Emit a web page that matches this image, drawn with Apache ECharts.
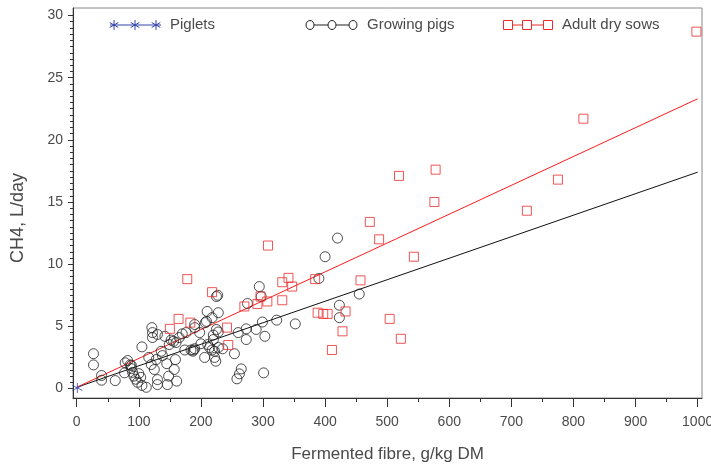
<!DOCTYPE html>
<html><head><meta charset="utf-8">
<script src="https://cdn.jsdelivr.net/npm/echarts@6/dist/echarts.min.js"></script>
<style>html,body{margin:0;padding:0;background:#fff}#c{width:711px;height:470px}</style>
</head><body><div id="c"></div>
<script>
// ---- data ----
const seriesNames = ['Piglets', 'Growing pigs', 'Adult dry sows'];
const pigletsData = [[1, 0.05]];
const growingPigsData = [
  [27,2.8],[27,1.9],[40,1.05],[40,0.67],[62,0.64],[77,1.26],[78,2.07],[82,2.25],[86,1.9],[88,1.6],
  [90,1.3],[92,1.0],[95,0.75],[98,0.5],[100,1.2],[103,0.9],[88,1.85],[105,0.25],[112,0.1],[105,3.35],
  [116,2.5],[121,4.9],[122,4.5],[130,4.35],[122,4.1],[120,1.93],[128,2.33],[125,1.53],[130,0.72],[130,0.32],
  [138,2.65],[148,1.0],[146,0.32],[159,2.33],[157,1.53],[161,0.6],[149,3.54],[156,3.8],[142,4.2],[152,3.9],
  [160,3.7],[165,4.1],[170,4.4],[174,3.1],[188,3.1],[176,4.5],[184,3.1],[190,4.9],[190,5.15],[198,4.5],
  [207,5.3],[210,6.2],[218,5.7],[209,5.4],[228,6.1],[227,7.5],[225,7.4],[225,4.75],[228,4.55],[220,4.3],
  [220,3.94],[211,3.54],[214,3.3],[218,3.1],[222,3.0],[228,3.3],[187,3.0],[190,3.2],[206,2.5],[222,2.5],
  [224,2.2],[254,2.8],[260,4.5],[265,1.58],[262,1.18],[258,0.78],[273,4.8],[273,3.94],[275,6.84],[289,4.75],
  [294,8.2],[297,7.4],[299,5.35],[303,4.2],[301,1.26],[322,5.5],[352,5.2],[390,8.85],[400,10.6],[420,12.1],
  [423,6.7],[423,5.7],[455,7.6],[136,3.0],[145,2.0],[200,3.6],[235,3.2]
];
const adultSowsData = [
  [150,4.8],[164,5.6],[183,5.3],[178,8.8],[218,7.75],[242,4.9],[244,3.5],[270,6.6],[291,6.8],[296,7.4],
  [307,7.0],[308,11.5],[331,7.1],[331,8.55],[341,8.9],[347,8.2],[384,8.8],[388,6.1],[397,6.0],[404,6.0],
  [411,3.1],[428,4.6],[433,6.2],[457,8.7],[472,13.4],[487,12.0],[504,5.6],[519,17.1],[522,4.0],[543,10.6],
  [576,15.0],[578,17.6],[725,14.3],[775,16.8],[816,21.7],[998,28.7]
];
const growingFit = [[0, 0.1], [1000, 17.4]];
const sowsFit = [[0, 0.1], [1000, 23.3]];
const xMajorTicks = [0,100,200,300,400,500,600,700,800,900,1000];
const xMinorTicks = [50,150,250,350,450,550,650,750,850,950];
const yMajorTicks = [0,5,10,15,20,25,30];
const yMinorTicks = [];
for (let v = 0.5; v < 30; v += 0.5) { if (v % 5 !== 0) yMinorTicks.push(v); }
const xTitle = 'Fermented fibre, g/kg DM';
const yTitle = 'CH4, L/day';

// ---- style ----
const FONT = '"Liberation Sans",Arial,sans-serif';
const TXT = '#4a4a4a';
const AX = '#333';
const BLUE = '#3344aa', BLACK = '#222', RED = '#ee2a2a';
const X_MIN = -6, X_MAX = 1007, Y_MIN = -0.76, Y_MAX = 30.6;

const starPath = 'path://M5,0L5,10M0.7,2.5L9.3,7.5M0.7,7.5L9.3,2.5';

function legendItem(kind, color, xs, lineX0, lineX1, y, textX, label) {
  const els = [{type:'line', shape:{x1:lineX0, y1:y, x2:lineX1, y2:y}, style:{stroke:color, lineWidth:1}}];
  xs.forEach(x => {
    if (kind === 'circle') els.push({type:'ellipse', shape:{cx:x, cy:y, rx:4, ry:4.5}, style:{fill:'#fff', stroke:color, lineWidth:1}});
    else if (kind === 'rect') els.push({type:'rect', shape:{x:x-4.5, y:y-4.5, width:9, height:9}, style:{fill:'#fff', stroke:color, lineWidth:1}});
    else {
      els.push({type:'line', shape:{x1:x, y1:y-5, x2:x, y2:y+5}, style:{stroke:color, lineWidth:1}});
      els.push({type:'line', shape:{x1:x-4.3, y1:y-2.5, x2:x+4.3, y2:y+2.5}, style:{stroke:color, lineWidth:1}});
      els.push({type:'line', shape:{x1:x-4.3, y1:y+2.5, x2:x+4.3, y2:y-2.5}, style:{stroke:color, lineWidth:1}});
    }
  });
  els.push({type:'text', x:textX, y:y, style:{text:label, fill:TXT, font:'15px ' + FONT, verticalAlign:'middle', align:'left'}});
  return els;
}

const chart = echarts.init(document.getElementById('c'), null, {renderer:'canvas'});
chart.setOption({
  animation: false,
  backgroundColor: '#fff',
  grid: {left:73, right:9, top:8, bottom:72, show:true, borderColor:'#888', borderWidth:1,
         containLabel:false, outerBoundsMode:'none'},
  xAxis: [
    {type:'value', min:X_MIN, max:X_MAX, position:'bottom',
     axisLine:{show:true, onZero:false, lineStyle:{color:AX}},
     axisTick:{show:true, customValues:xMajorTicks, length:9, lineStyle:{color:AX}},
     axisLabel:{show:true, customValues:xMajorTicks, margin:17, fontFamily:FONT, fontSize:14, color:TXT,
                formatter: v => String(v)},
     splitLine:{show:false},
     name:xTitle, nameLocation:'middle', nameGap:48,
     nameTextStyle:{fontFamily:FONT, fontSize:17, color:TXT}},
    {type:'value', min:X_MIN, max:X_MAX, position:'bottom',
     axisLine:{show:false, onZero:false},
     axisTick:{show:true, customValues:xMinorTicks, length:4, lineStyle:{color:AX}},
     axisLabel:{show:false}, splitLine:{show:false}}
  ],
  yAxis: [
    {type:'value', min:Y_MIN, max:Y_MAX, position:'left',
     axisLine:{show:true, onZero:false, lineStyle:{color:AX}},
     axisTick:{show:true, customValues:yMajorTicks, length:5, lineStyle:{color:AX}},
     axisLabel:{show:true, customValues:yMajorTicks, margin:10, fontFamily:FONT, fontSize:14, color:TXT,
                formatter: v => String(v)},
     splitLine:{show:false}},
    {type:'value', min:Y_MIN, max:Y_MAX, position:'left',
     axisLine:{show:false, onZero:false},
     axisTick:{show:true, customValues:yMinorTicks, length:3, lineStyle:{color:AX}},
     axisLabel:{show:false}, splitLine:{show:false}}
  ],
  series: [
    {name:'fitGrowing', type:'line', data:growingFit, showSymbol:false, symbol:'none', z:1,
     lineStyle:{color:'#111', width:1}},
    {name:'fitSows', type:'line', data:sowsFit, showSymbol:false, symbol:'none', z:1,
     lineStyle:{color:'#ff1a1a', width:1}},
    {name:seriesNames[1], type:'scatter', data:growingPigsData, symbol:'circle', symbolSize:10, z:2,
     itemStyle:{color:'rgba(0,0,0,0)', borderColor:BLACK, borderWidth:1}},
    {name:seriesNames[2], type:'scatter', data:adultSowsData, symbol:'rect', symbolSize:9, z:3,
     itemStyle:{color:'rgba(0,0,0,0)', borderColor:RED, borderWidth:1}},
    {name:seriesNames[0], type:'scatter', data:pigletsData, symbol:starPath, symbolSize:10, z:4,
     itemStyle:{color:'rgba(0,0,0,0)', borderColor:BLUE, borderWidth:1}}
  ],
  graphic: [
    ...legendItem('star', BLUE, [114,135,156], 110, 161, 25, 170, seriesNames[0]),
    ...legendItem('circle', BLACK, [310,332,353], 306, 357, 25, 367, seriesNames[1]),
    ...legendItem('rect', RED, [508,527,548], 503, 552, 25, 562, seriesNames[2]),
    {type:'text', x:18, y:218, rotation:Math.PI/2,
     style:{text:yTitle, fill:TXT, font:'18px ' + FONT, align:'center', verticalAlign:'middle'}}
  ]
});
</script>
</body></html>
